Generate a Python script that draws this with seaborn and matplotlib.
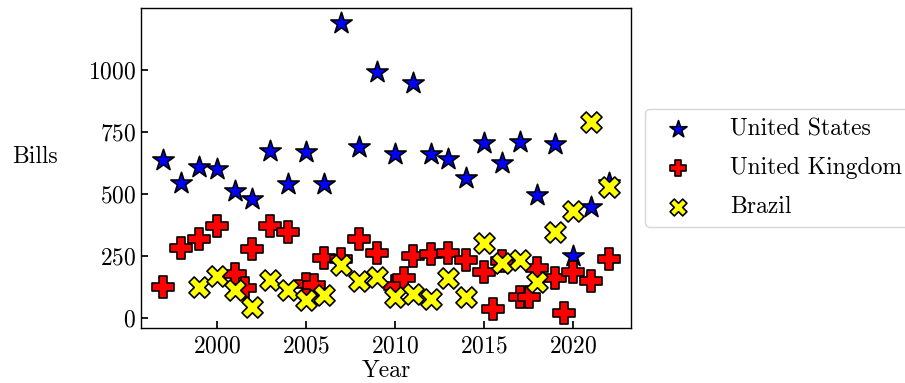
#!/usr/bin/env python3
import matplotlib

matplotlib.use("Agg")
import matplotlib.pyplot as plt
import pandas as pd
import seaborn as sns

# values
US_YEARS = [1997, 1998, 1999, 2000, 2001, 2002, 2003, 2004, 2005, 2006, 2007, 2008, 2009,
            2010, 2011, 2012, 2013, 2014, 2015, 2016, 2017, 2018, 2019, 2020, 2021, 2022]
US_BILLS = [637, 544, 609, 601, 512, 480, 673, 540, 669, 540, 1190, 690, 992,
            661, 948, 660, 641, 563, 704, 624, 708, 496, 701, 251, 447, 545]

UK_YEARS = [1997, 1998, 1999, 2000, 2001, 2001.6, 2002, 2003, 2004, 2005, 2005.45, 2006,
            2007, 2008, 2009, 2010, 2010.5, 2011, 2012, 2013, 2014, 2015, 2015.5, 2016,
            2017, 2017.5, 2018, 2019, 2019.5, 2020, 2021, 2022]
UK_BILLS = [125, 282, 318, 373, 178, 121, 278, 373, 349, 140, 136, 245,
            241, 319, 264, 130, 161, 252, 258, 264, 237, 185, 36, 230,
            87, 87, 204, 163, 20, 185, 151, 239]

BR_YEARS = [1999, 2000, 2001, 2002, 2003, 2004, 2005, 2006, 2007, 2008, 2009, 2010,
            2011, 2012, 2013, 2014, 2015, 2016, 2017, 2018, 2019, 2020, 2021, 2022]
BR_BILLS = [127, 170, 114, 44, 154, 114, 76, 94, 214, 150, 165, 87,
            100, 80, 161, 87, 302, 221, 237, 145, 346, 433, 791, 530]

X_TICKS = [2000, 2005, 2010, 2015, 2020]
Y_TICKS = [0, 250, 500, 750, 1000]


def _apply_style() -> None:
    sns.set_theme(style="white")
    plt.rcParams.update(
        {
            "font.family": ["cmr10", "DejaVu Serif"],
            "mathtext.fontset": "cm",
            "axes.formatter.use_mathtext": True,
            "font.size": 17,
            "axes.labelsize": 17,
            "xtick.labelsize": 17,
            "ytick.labelsize": 17,
            "legend.fontsize": 17,
            "axes.edgecolor": "black",
            "axes.linewidth": 1.0,
            "xtick.direction": "in",
            "ytick.direction": "in",
            "xtick.bottom": True,
            "ytick.left": True,
            "xtick.major.size": 5,
            "ytick.major.size": 5,
            "xtick.major.pad": 5,
            "xtick.color": "black",
            "ytick.color": "black",
            "text.color": "black",
            "axes.labelcolor": "black",
        }
    )


def main() -> None:
    _apply_style()

    series = [
        ("United States", US_YEARS, US_BILLS, "*", "blue", 260),
        ("United Kingdom", UK_YEARS, UK_BILLS, "P", "red", 230),
        ("Brazil", BR_YEARS, BR_BILLS, "X", "yellow", 230),
    ]

    fig = plt.figure(figsize=(9.05, 3.83), dpi=100)
    ax = fig.add_axes([0.1558, 0.1436, 0.5414, 0.8355])

    for name, years, bills, marker, color, size in series:
        df = pd.DataFrame({"Year": years, "Bills": bills})
        sns.scatterplot(
            data=df, x="Year", y="Bills", ax=ax, marker=marker, color=color,
            s=size, edgecolor="black", linewidth=1.2, label=name, legend=False,
        )

    ax.set_xticks(X_TICKS)
    ax.set_yticks(Y_TICKS)
    ax.set_xlabel("Year", labelpad=2)
    ax.set_ylabel("Bills", rotation=0, labelpad=38)
    for side in ["top", "right", "left", "bottom"]:
        ax.spines[side].set_visible(True)

    ax.legend(loc="center left", bbox_to_anchor=(1.029, 0.5), borderaxespad=0,
              markerscale=0.8, frameon=True, handletextpad=1.2, labelspacing=0.7)

    fig.savefig("out.png", dpi=100)
    plt.close(fig)


if __name__ == "__main__":
    main()
